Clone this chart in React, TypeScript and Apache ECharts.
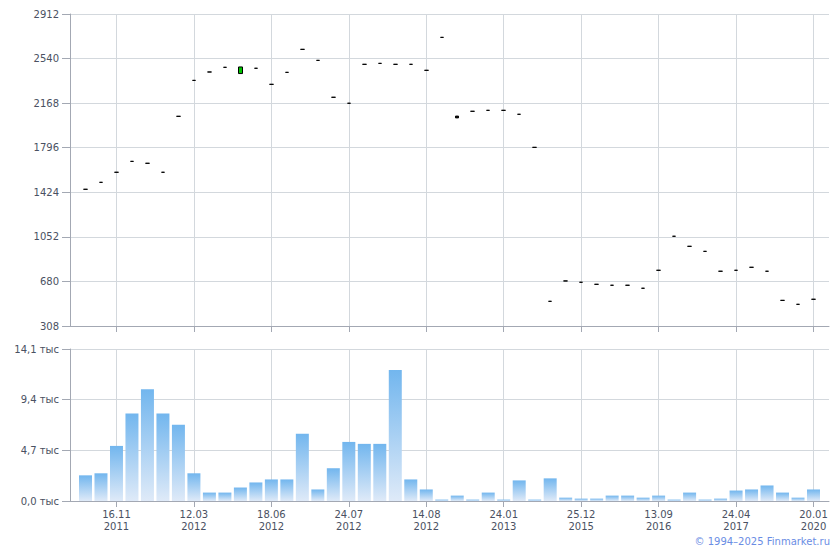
import React, { useEffect, useRef } from "react";
import * as echarts from "echarts";

// Candles (48 periods): open / close prices
const opens = [
  1449, 1507, 1591, 1682, 1666, 1591, 2058, 2358, 2428, 2467,
  2415, 2459, 2325, 2425, 2617, 2525, 2217, 2167, 2492, 2500,
  2492, 2492, 2442, 2717, 2060, 2100, 2108, 2108, 2075, 1799,
  514, 684, 673, 656, 648, 648, 623, 773, 1057, 973,
  931, 765, 773, 798, 765, 522, 489, 531,
];
const closes = [
  1449, 1507, 1591, 1682, 1666, 1591, 2058, 2358, 2428, 2467,
  2470, 2459, 2325, 2425, 2617, 2525, 2217, 2167, 2492, 2500,
  2492, 2492, 2442, 2717, 2045, 2100, 2108, 2108, 2075, 1799,
  514, 684, 673, 656, 648, 648, 623, 773, 1057, 973,
  931, 765, 773, 798, 765, 522, 489, 531,
];
// Volumes
const volumes = [
  2380, 2570, 5110, 8110, 10370, 8110, 7080, 2570, 780, 780,
  1250, 1720, 2000, 2000, 6240, 1070, 3040, 5480, 5300, 5300,
  12160, 2000, 1070, 130, 500, 130, 780, 130, 1910, 130,
  2100, 310, 220, 220, 500, 500, 310, 500, 130, 780,
  130, 220, 970, 1070, 1440, 780, 310, 1070,
];
// Tick labels and the candle each belongs to
const tickLabels = [
  "16.11\n2011", "12.03\n2012", "18.06\n2012", "24.07\n2012", "14.08\n2012",
  "24.01\n2013", "25.12\n2015", "13.09\n2016", "24.04\n2017", "20.01\n2020",
];
const tickCandles = [2, 7, 12, 17, 22, 27, 32, 37, 42, 47];
const priceTicks = { min: 308, max: 2912, step: 372 };
const volumeTicks = { min: 0, max: 14100, step: 4700 };

export default function App() {
  const ref = useRef<HTMLDivElement>(null);
  useEffect(() => {
    if (!ref.current) return;
    const chart = echarts.init(ref.current, undefined, { renderer: "svg" });
    const n = closes.length;
    // padded categories: one empty slot at each end
    const categories: string[] = ["pad-start"];
    for (let i = 0; i < n; i++) {
      const k = tickCandles.indexOf(i);
      categories.push(k >= 0 ? tickLabels[k] : "c" + i);
    }
    categories.push("pad-end");
    const isTick = (idx: number) => tickCandles.indexOf(idx - 1) >= 0;

    const candleData: any[] = ["-"];
    const volData: any[] = ["-"];
    for (let i = 0; i < n; i++) {
      const o = opens[i], c = closes[i];
      candleData.push([o, c, Math.min(o, c), Math.max(o, c)]);
      volData.push(volumes[i]);
    }
    candleData.push("-");
    volData.push("-");

    const font = "DejaVu Sans";
    const labelColor = "#4a5162";
    const axisColor = "#a3a8b3";
    const gridColor = "#d3d8dd";

    const xCommon = {
      type: "category",
      data: categories,
      boundaryGap: false,
      axisLine: { show: true, lineStyle: { color: axisColor, width: 1 } },
      axisTick: { show: true, interval: (i: number) => isTick(i), length: 6, lineStyle: { color: axisColor } },
      splitLine: { show: true, interval: (i: number) => isTick(i), lineStyle: { color: gridColor, width: 1 } },
    };

    chart.setOption({
      animation: false,
      backgroundColor: "#ffffff",
      grid: [
        { left: 70, right: 11, top: 14, height: 312 },
        { left: 70, right: 11, top: 349, height: 152 },
      ],
      xAxis: [
        { ...xCommon, gridIndex: 0, axisLabel: { show: false } },
        {
          ...xCommon,
          gridIndex: 1,
          axisLabel: {
            show: true,
            interval: (i: number) => isTick(i),
            color: labelColor,
            fontFamily: font,
            fontSize: 10,
            lineHeight: 12,
            margin: 7,
          },
        },
      ],
      yAxis: [
        {
          type: "value",
          gridIndex: 0,
          min: priceTicks.min,
          max: priceTicks.max,
          interval: priceTicks.step,
          axisLine: { show: true, lineStyle: { color: axisColor } },
          axisTick: { show: true, length: 8, lineStyle: { color: axisColor } },
          axisLabel: {
            color: labelColor,
            fontFamily: font,
            fontSize: 10,
            margin: 11,
            formatter: (v: number) => String(Math.round(v)),
          },
          splitLine: { show: true, lineStyle: { color: gridColor } },
        },
        {
          type: "value",
          gridIndex: 1,
          min: volumeTicks.min,
          max: volumeTicks.max,
          interval: volumeTicks.step,
          axisLine: { show: true, lineStyle: { color: axisColor } },
          axisTick: { show: true, length: 8, lineStyle: { color: axisColor } },
          axisLabel: {
            color: labelColor,
            fontFamily: font,
            fontSize: 10,
            margin: 11,
            formatter: (v: number) => (v / 1000).toFixed(1).replace(".", ",") + " тыс",
          },
          splitLine: { show: true, lineStyle: { color: gridColor } },
        },
      ],
      series: [
        {
          type: "candlestick",
          xAxisIndex: 0,
          yAxisIndex: 0,
          data: candleData,
          barWidth: 4,
          itemStyle: {
            color: "#00c400",
            color0: "#000000",
            borderColor: "#000000",
            borderColor0: "#000000",
            borderWidth: 1,
          },
        },
        {
          type: "bar",
          xAxisIndex: 1,
          yAxisIndex: 1,
          data: volData,
          barWidth: 13,
          itemStyle: {
            color: new echarts.graphic.LinearGradient(0, 0, 0, 1, [
              { offset: 0, color: "#72b6ee" },
              { offset: 1, color: "#dfeaf8" },
            ]),
          },
        },
      ],
      graphic: [
        {
          type: "text",
          right: 10,
          top: 536,
          style: {
            text: "© 1994–2025 Finmarket.ru",
            fill: "#6a8de4",
            font: "10px DejaVu Sans",
          },
        },
      ],
    });
    return () => chart.dispose();
  }, []);
  return (
    <div
      ref={ref}
      style={{ position: "fixed", left: 0, top: 0, width: 840, height: 550 }}
    />
  );
}
